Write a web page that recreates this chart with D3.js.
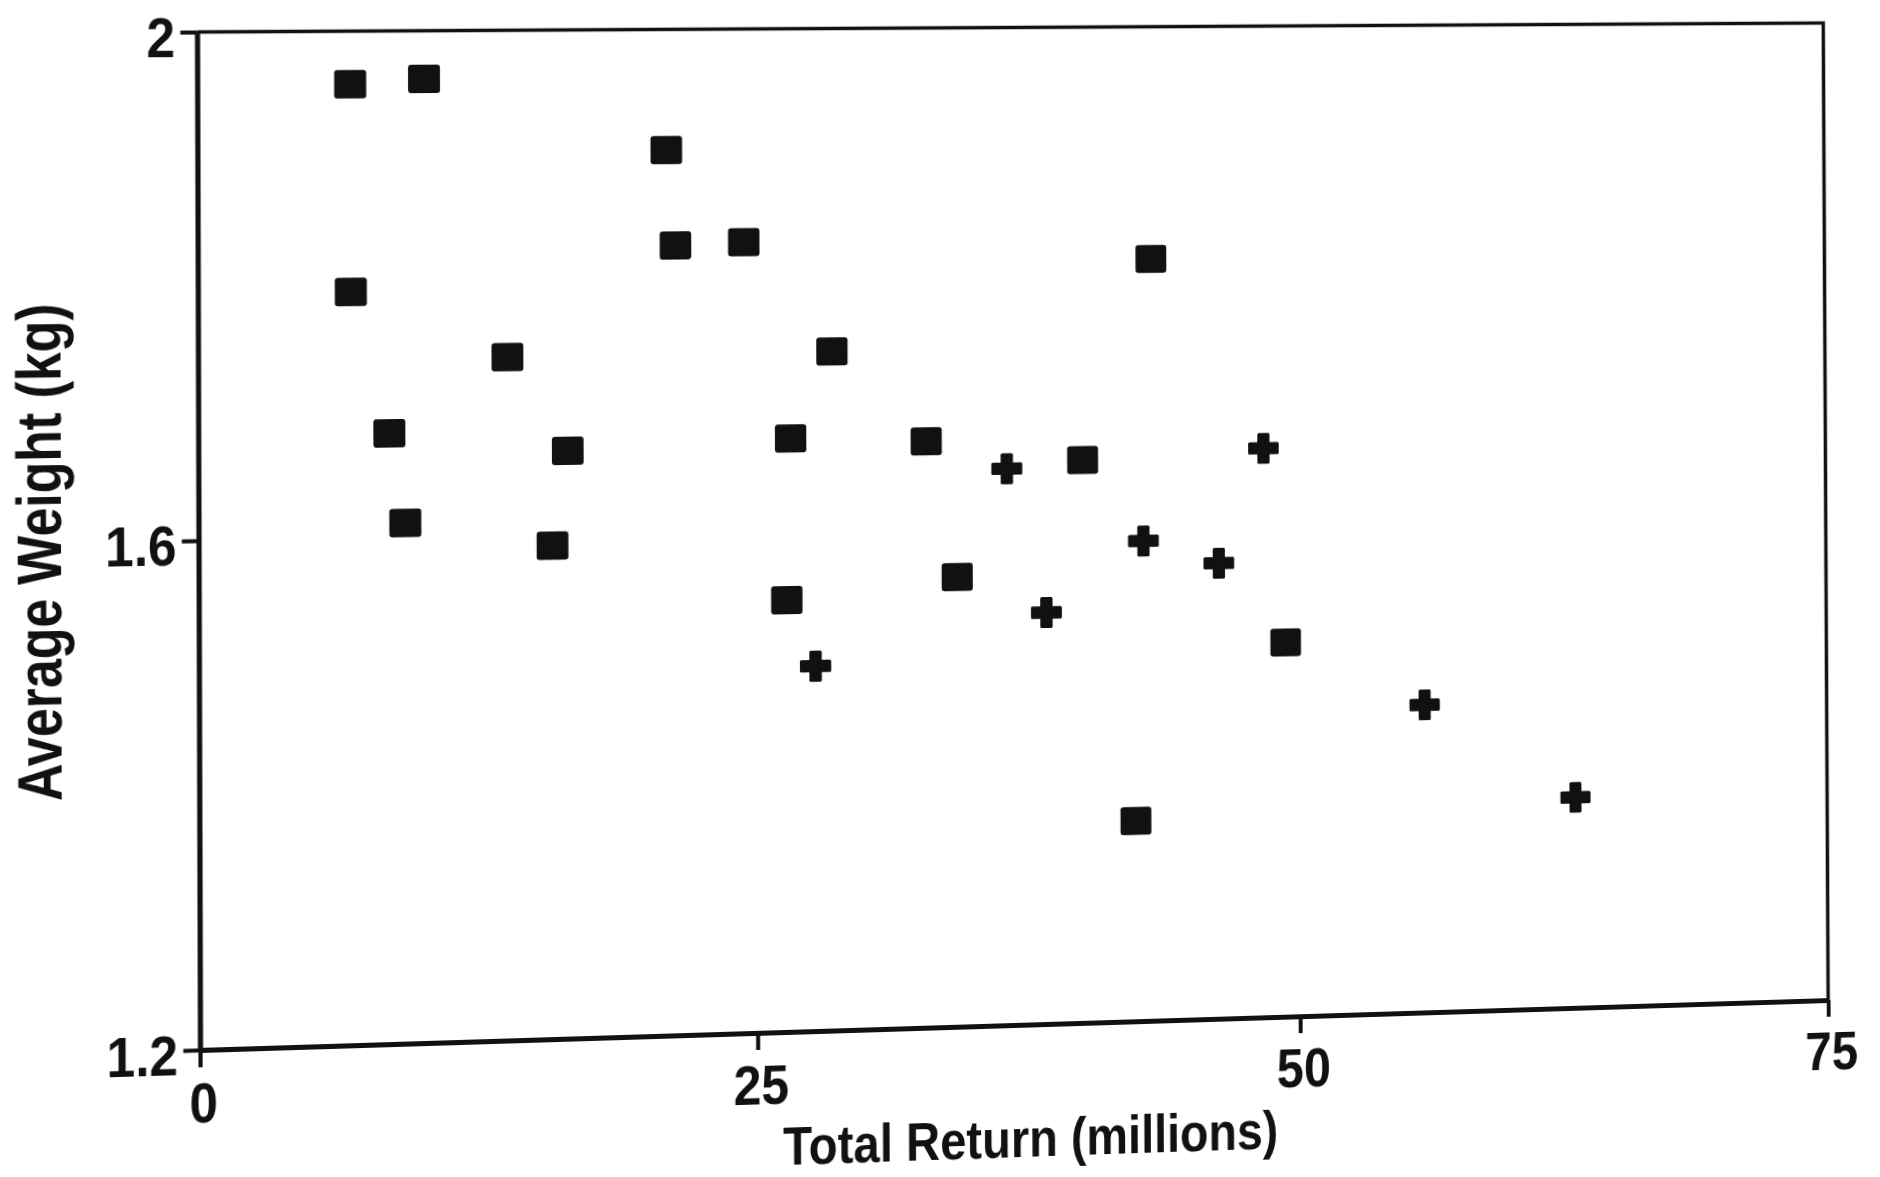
<!DOCTYPE html>
<html>
<head>
<meta charset="utf-8">
<script src="https://cdn.jsdelivr.net/npm/d3@7"></script>
<style>
  html, body { margin: 0; padding: 0; background: #ffffff; overflow: hidden; }
  #wrap { position: absolute; left: 0; top: 0; width: 1880px; height: 1177px; transform-origin: 0 0; }
  text { font-family: "Liberation Sans", Arial, Helvetica, sans-serif; font-weight: bold; fill: #111; }
</style>
</head>
<body>
<div id="wrap"></div>
<script>
// ---- data ----
const squareX = [6.8, 10.1, 21.0, 21.4, 24.5, 6.8, 13.8, 28.5, 8.5, 16.5, 26.6, 32.8, 40.0, 9.2, 15.8, 26.4, 34.2, 43.2, 49.4, 42.4];
const squareY = [1.958, 1.962, 1.904, 1.828, 1.830, 1.794, 1.741, 1.742, 1.682, 1.666, 1.673, 1.669, 1.652, 1.611, 1.591, 1.544, 1.560, 1.813, 1.502, 1.361];
const plusX = [36.5, 48.4, 42.8, 46.3, 38.3, 27.7, 55.9, 63.0];
const plusY = [1.646, 1.659, 1.586, 1.567, 1.530, 1.491, 1.449, 1.371];
const xTicks = [0, 25, 50, 75];
const yTicks = [1.2, 1.6, 2];
const xTickLabels = ["0", "25", "50", "75"];
const yTickLabels = ["1.2", "1.6", "2"];
const xTitle = "Total Return (millions)";
const yTitle = "Average Weight (kg)";

// ---- layout ----
const W = 1880, H = 1177;
const P = { left: 198.5, right: 1825.5, top: 27.5, bottom: 1025 };

const svg = d3.select("#wrap").append("svg").attr("width", W).attr("height", H);

const x = d3.scaleLinear().domain([0, 75]).range([P.left, P.right]);
const y = d3.scaleLinear().domain([1.2, 2]).range([P.bottom, P.top]);

// frame (top and right)
svg.append("path")
  .attr("d", `M${P.left},${P.top}H${P.right}V${P.bottom}`)
  .attr("fill", "none").attr("stroke", "#111").attr("stroke-width", 3.6);

// axes
const yAxis = svg.append("g").attr("transform", `translate(${P.left},0)`)
  .call(d3.axisLeft(y).tickValues(yTicks).tickSize(16).tickSizeOuter(0).tickPadding(5)
    .tickFormat(d => yTickLabels[yTicks.indexOf(d)]));
const xAxis = svg.append("g").attr("transform", `translate(0,${P.bottom})`)
  .call(d3.axisBottom(x).tickValues(xTicks).tickSize(17).tickSizeOuter(0).tickPadding(14)
    .tickFormat(d => xTickLabels[xTicks.indexOf(d)]));

[yAxis, xAxis].forEach(g => {
  g.select(".domain").attr("stroke", "#111").attr("stroke-width", 5);
  g.selectAll(".tick line").attr("stroke", "#111").attr("stroke-width", 4);
  g.selectAll("text").attr("font-size", 56).attr("fill", "#111")
    .attr("font-family", "'Liberation Sans', Arial, sans-serif").attr("font-weight", "bold");
});
yAxis.selectAll("text").attr("dy", "0.42em");
xAxis.selectAll("text").attr("dx", 3);

// condense tick label glyphs a little (original face is narrower)
svg.selectAll(".tick text").each(function () {
  const w = this.getComputedTextLength();
  this.setAttribute("textLength", (w * 0.88).toFixed(1));
  this.setAttribute("lengthAdjust", "spacingAndGlyphs");
});

// titles
svg.append("text")
  .attr("x", 1013).attr("y", 1157)
  .attr("text-anchor", "middle").attr("font-size", 54)
  .attr("textLength", 495).attr("lengthAdjust", "spacingAndGlyphs")
  .text(xTitle);
svg.append("text")
  .attr("transform", "translate(67,535) rotate(-90)")
  .attr("text-anchor", "middle").attr("font-size", 60)
  .attr("textLength", 486).attr("lengthAdjust", "spacingAndGlyphs")
  .text(yTitle);

// markers
const squares = squareX.map((v, i) => ({ x: v, y: squareY[i] }));
const pluses = plusX.map((v, i) => ({ x: v, y: plusY[i] }));

svg.append("g").selectAll("rect").data(squares).join("rect")
  .attr("x", d => x(d.x) - 15.5).attr("y", d => y(d.y) - 14)
  .attr("width", 31).attr("height", 28).attr("rx", 3)
  .attr("fill", "#111");

svg.append("g").selectAll("path").data(pluses).join("path")
  .attr("transform", d => `translate(${x(d.x)},${y(d.y)})`)
  .attr("d", d3.symbol(d3.symbolCross).size(435))
  .attr("fill", "#111").attr("stroke", "#111").attr("stroke-width", 3).attr("stroke-linejoin", "round");

// ---- scan distortion: map the ideal plot rectangle onto the skewed scanned frame ----
const src = [[P.left, P.top], [P.right, P.top], [P.left, P.bottom], [P.right, P.bottom]];
const dst = [[197, 32], [1823, 23], [200, 1050], [1828, 1000]];
function homography(s, t) {
  const A = [], b = [];
  for (let i = 0; i < 4; i++) {
    const [xs, ys] = s[i], [X, Y] = t[i];
    A.push([xs, ys, 1, 0, 0, 0, -xs * X, -ys * X]); b.push(X);
    A.push([0, 0, 0, xs, ys, 1, -xs * Y, -ys * Y]); b.push(Y);
  }
  const n = 8;
  for (let c = 0; c < n; c++) {
    let p = c;
    for (let r = c + 1; r < n; r++) if (Math.abs(A[r][c]) > Math.abs(A[p][c])) p = r;
    [A[c], A[p]] = [A[p], A[c]]; [b[c], b[p]] = [b[p], b[c]];
    for (let r = 0; r < n; r++) {
      if (r === c) continue;
      const f = A[r][c] / A[c][c];
      for (let k = c; k < n; k++) A[r][k] -= f * A[c][k];
      b[r] -= f * b[c];
    }
  }
  return b.map((v, i) => v / A[i][i]);
}
const [a, bb, c, d, e, f, g, h] = homography(src, dst);
document.getElementById("wrap").style.transform =
  `matrix3d(${a},${d},0,${g},${bb},${e},0,${h},0,0,1,0,${c},${f},0,1)`;
</script>
</body>
</html>
